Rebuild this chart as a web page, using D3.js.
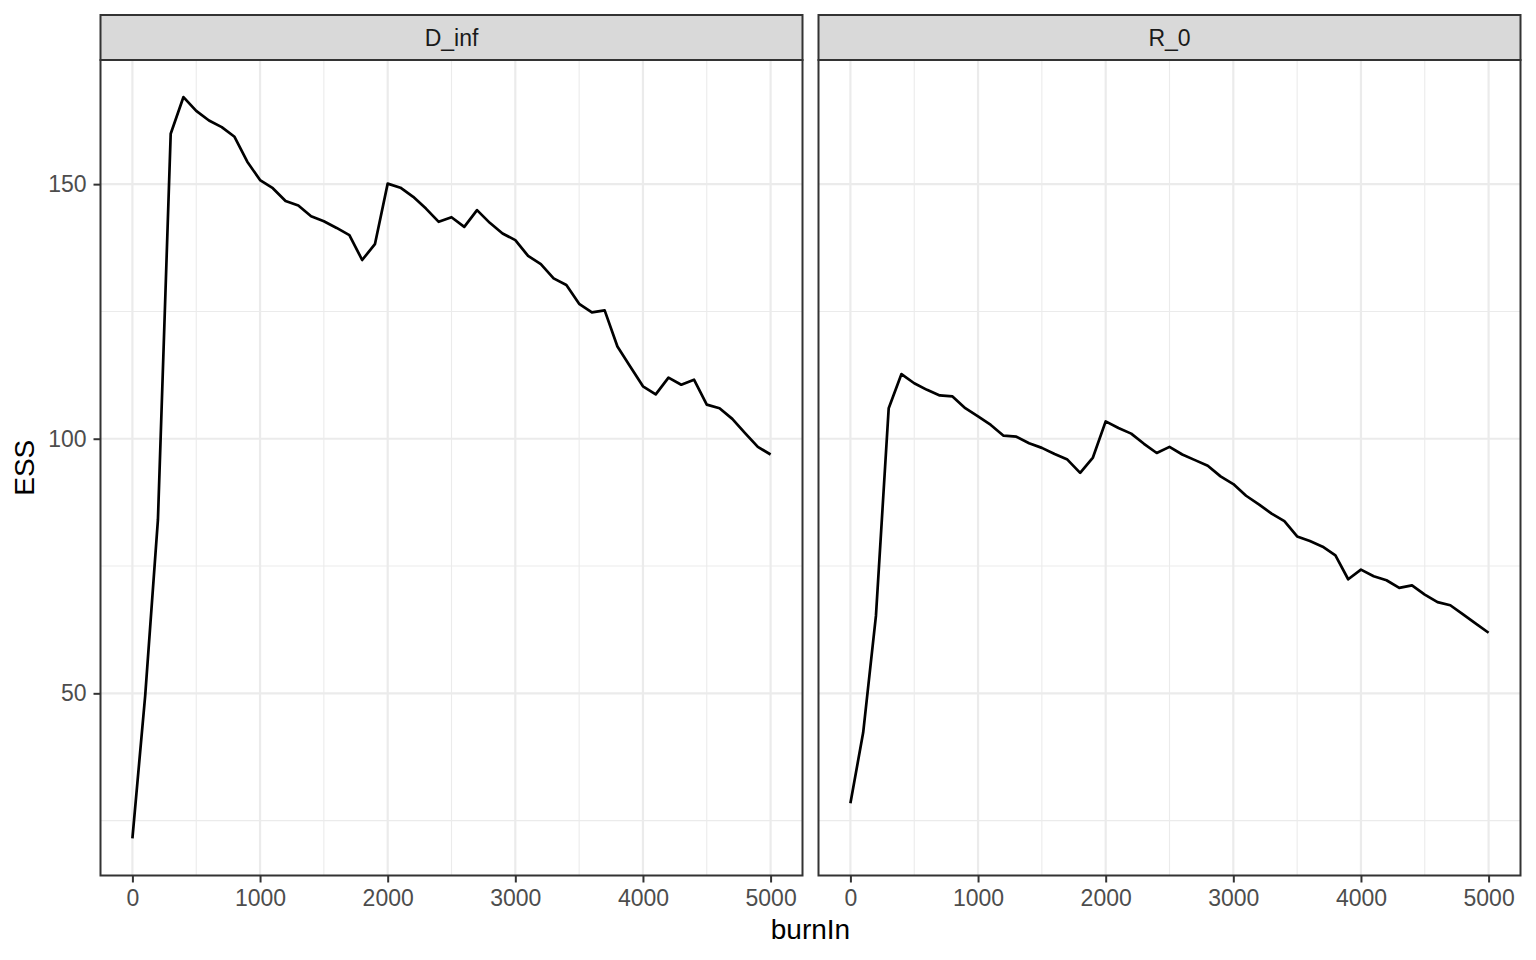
<!DOCTYPE html>
<html>
<head>
<meta charset="utf-8">
<script src="https://cdn.jsdelivr.net/npm/d3@7"></script>
<style>
  body { margin: 0; background: #fff; }
  svg { display: block; font-family: "Liberation Sans", Arial, sans-serif; }
</style>
</head>
<body>
<div id="chart"></div>
<script>
// burn-in values (x) shared by both facets
var burnIn = [0, 100, 200, 300, 400, 500, 600, 700, 800, 900,
  1000, 1100, 1200, 1300, 1400, 1500, 1600, 1700, 1800, 1900,
  2000, 2100, 2200, 2300, 2400, 2500, 2600, 2700, 2800, 2900,
  3000, 3100, 3200, 3300, 3400, 3500, 3600, 3700, 3800, 3900,
  4000, 4100, 4200, 4300, 4400, 4500, 4600, 4700, 4800, 4900, 5000];

var essDinf = [21.5, 49.5, 84.1, 159.9, 167.1, 164.4, 162.5, 161.2, 159.3, 154.4,
  150.8, 149.2, 146.7, 145.8, 143.7, 142.7, 141.4, 140.0, 135.1, 138.2,
  150.1, 149.3, 147.5, 145.2, 142.6, 143.5, 141.6, 144.9, 142.4, 140.3,
  139.0, 135.9, 134.3, 131.5, 130.2, 126.5, 124.8, 125.2, 118.1, 114.2,
  110.3, 108.7, 112.0, 110.6, 111.6, 106.7, 106.0, 103.9, 101.1, 98.4, 96.9];

var essR0 = [28.4, 42.3, 65.2, 106.0, 112.7, 110.9, 109.6, 108.5, 108.3, 106.0,
  104.4, 102.7, 100.6, 100.4, 99.1, 98.2, 97.0, 95.9, 93.3, 96.3,
  103.4, 102.1, 101.0, 99.0, 97.2, 98.4, 96.9, 95.8, 94.7, 92.6,
  91.1, 88.8, 87.1, 85.3, 83.8, 80.8, 79.9, 78.8, 77.1, 72.4,
  74.3, 73.0, 72.2, 70.7, 71.2, 69.4, 67.9, 67.3, 65.5, 63.7, 61.9];

var facetNames = ["D_inf", "R_0"];
var facetValues = [essDinf, essR0];

var xTicks = [0, 1000, 2000, 3000, 4000, 5000];
var xMinor = [500, 1500, 2500, 3500, 4500];
var yTicks = [50, 100, 150];
var yMinor = [25, 75, 125];

var width = 1536, height = 960;
var panelTop = 60, panelBottom = 875.5, stripTop = 15;
var panelLefts = [100.5, 818.5], panelWidth = 702;

var svg = d3.select("#chart").append("svg")
  .attr("width", width)
  .attr("height", height);

// ggplot style 5% expansion on both axes
var xExt = d3.extent(burnIn);
var xPad = (xExt[1] - xExt[0]) * 0.05;
var yExt = d3.extent(essDinf.concat(essR0));
var yPad = (yExt[1] - yExt[0]) * 0.05;

var y = d3.scaleLinear()
  .domain([yExt[0] - yPad, yExt[1] + yPad])
  .range([panelBottom, panelTop]);

facetNames.forEach(function(name, k) {
  var left = panelLefts[k];
  var x = d3.scaleLinear()
    .domain([xExt[0] - xPad, xExt[1] + xPad])
    .range([left, left + panelWidth]);

  var g = svg.append("g");

  // grid lines, minor first
  g.selectAll(".xminor").data(xMinor).enter().append("line")
    .attr("x1", function(d) { return x(d); })
    .attr("x2", function(d) { return x(d); })
    .attr("y1", panelTop).attr("y2", panelBottom)
    .attr("stroke", "#ebebeb").attr("stroke-width", 1.1);
  g.selectAll(".yminor").data(yMinor).enter().append("line")
    .attr("x1", left).attr("x2", left + panelWidth)
    .attr("y1", function(d) { return y(d); })
    .attr("y2", function(d) { return y(d); })
    .attr("stroke", "#ebebeb").attr("stroke-width", 1.1);
  g.selectAll(".xmajor").data(xTicks).enter().append("line")
    .attr("x1", function(d) { return x(d); })
    .attr("x2", function(d) { return x(d); })
    .attr("y1", panelTop).attr("y2", panelBottom)
    .attr("stroke", "#ebebeb").attr("stroke-width", 2.2);
  g.selectAll(".ymajor").data(yTicks).enter().append("line")
    .attr("x1", left).attr("x2", left + panelWidth)
    .attr("y1", function(d) { return y(d); })
    .attr("y2", function(d) { return y(d); })
    .attr("stroke", "#ebebeb").attr("stroke-width", 2.2);

  // the series
  var line = d3.line()
    .x(function(d, i) { return x(burnIn[i]); })
    .y(function(d) { return y(d); });
  g.append("path")
    .datum(facetValues[k])
    .attr("d", line)
    .attr("fill", "none")
    .attr("stroke", "#000")
    .attr("stroke-width", 2.7)
    .attr("stroke-linejoin", "round");

  // panel border
  g.append("rect")
    .attr("x", left).attr("y", panelTop)
    .attr("width", panelWidth).attr("height", panelBottom - panelTop)
    .attr("fill", "none").attr("stroke", "#333333").attr("stroke-width", 2);

  // strip
  g.append("rect")
    .attr("x", left).attr("y", stripTop)
    .attr("width", panelWidth).attr("height", panelTop - stripTop)
    .attr("fill", "#d9d9d9").attr("stroke", "#333333").attr("stroke-width", 2);
  g.append("text")
    .attr("x", left + panelWidth / 2)
    .attr("y", (stripTop + panelTop) / 2)
    .attr("dy", "0.35em")
    .attr("text-anchor", "middle")
    .attr("font-size", "23px")
    .attr("fill", "#1a1a1a")
    .text(name);

  // x axis
  var xAxis = g.append("g")
    .attr("transform", "translate(0," + panelBottom + ")")
    .call(d3.axisBottom(x).tickValues(xTicks).tickSize(7).tickPadding(7).tickFormat(d3.format("d")));
  xAxis.select(".domain").remove();
  xAxis.selectAll("line").attr("stroke", "#333333").attr("stroke-width", 2);
  xAxis.selectAll("text").attr("font-size", "23px").attr("fill", "#4d4d4d").attr("font-family", null);

  // y axis only on the first facet
  if(k == 0) {
    var yAxis = g.append("g")
      .attr("transform", "translate(" + left + ",0)")
      .call(d3.axisLeft(y).tickValues(yTicks).tickSize(7).tickPadding(7));
    yAxis.select(".domain").remove();
    yAxis.selectAll("line").attr("stroke", "#333333").attr("stroke-width", 2);
    yAxis.selectAll("text").attr("font-size", "23px").attr("fill", "#4d4d4d").attr("font-family", null);
  }
});

// axis titles
svg.append("text")
  .attr("x", (panelLefts[0] + panelLefts[1] + panelWidth) / 2)
  .attr("y", 939)
  .attr("text-anchor", "middle")
  .attr("font-size", "28px")
  .attr("fill", "#000")
  .text("burnIn");

svg.append("text")
  .attr("transform", "translate(34," + ((panelTop + panelBottom) / 2) + ") rotate(-90)")
  .attr("text-anchor", "middle")
  .attr("font-size", "28px")
  .attr("fill", "#000")
  .text("ESS");
</script>
</body>
</html>
